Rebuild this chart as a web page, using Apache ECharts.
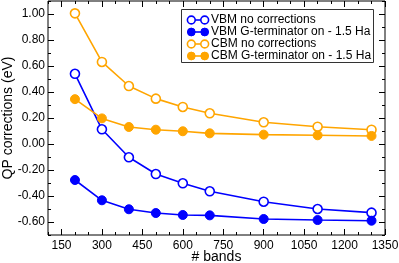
<!DOCTYPE html>
<html>
<head>
<meta charset="utf-8">
<script src="https://cdn.jsdelivr.net/npm/echarts@6/dist/echarts.min.js"></script>
<style>html,body{margin:0;padding:0;background:#fff;}#c{width:399px;height:263px;}</style>
</head>
<body>
<div id="c"></div>
<script>
const bands = [200, 300, 400, 500, 600, 700, 900, 1100, 1300];
const vbmNoCorr = [0.54, 0.113, -0.102, -0.231, -0.302, -0.364, -0.444, -0.50, -0.528];
const vbmGterm = [-0.277, -0.433, -0.502, -0.531, -0.546, -0.549, -0.577, -0.585, -0.59];
const cbmNoCorr = [1.005, 0.631, 0.446, 0.349, 0.285, 0.236, 0.167, 0.133, 0.11];
const cbmGterm = [0.345, 0.197, 0.131, 0.110, 0.098, 0.082, 0.072, 0.067, 0.062];
const seriesNames = ['VBM no corrections', 'VBM G-terminator on - 1.5 Ha', 'CBM no corrections', 'CBM G-terminator on - 1.5 Ha'];
const xTicks = [150, 300, 450, 600, 750, 900, 1050, 1200, 1350];
const yTicks = [-0.6, -0.4, -0.2, 0, 0.2, 0.4, 0.6, 0.8, 1.0];

const BLUE = '#0000ff', ORANGE = '#ffa500';
const FONT = 'Liberation Sans';
const seriesDefs = [
  {name: seriesNames[0], vals: vbmNoCorr, color: BLUE, hollow: true},
  {name: seriesNames[1], vals: vbmGterm, color: BLUE, hollow: false},
  {name: seriesNames[2], vals: cbmNoCorr, color: ORANGE, hollow: true},
  {name: seriesNames[3], vals: cbmGterm, color: ORANGE, hollow: false}
];

function xAx(pos, major, withLabel) {
  const a = {
    type: 'value', position: pos, min: 100, max: 1350, gridIndex: 0,
    axisLine: {show: false, onZero: false}, splitLine: {show: false},
    axisLabel: {show: false}
  };
  if (major) {
    a.axisTick = {show: true, inside: true, length: 6, customValues: xTicks, lineStyle: {color: '#000', width: 1}};
    if (withLabel) {
      a.axisLabel = {show: true, customValues: xTicks, margin: 5, fontSize: 12, fontFamily: FONT, color: '#000',
        formatter: v => String(v)};
      a.name = '# bands'; a.nameLocation = 'middle'; a.nameGap = 15; a.nameMoveOverlap = false;
      a.nameTextStyle = {fontSize: 14, fontFamily: FONT, color: '#000'};
    }
  } else {
    a.interval = 50;
    a.axisTick = {show: true, inside: true, length: 3, lineStyle: {color: '#000', width: 1}};
  }
  return a;
}
function yAx(pos, major, withLabel) {
  const a = {
    type: 'value', position: pos, min: -0.7, max: 1.1, gridIndex: 0,
    axisLine: {show: false, onZero: false}, splitLine: {show: false},
    axisLabel: {show: false}
  };
  if (major) {
    a.axisTick = {show: true, inside: true, length: 6, customValues: yTicks, lineStyle: {color: '#000', width: 1}};
    if (withLabel) {
      a.axisLabel = {show: true, customValues: yTicks, margin: 3, fontSize: 12, fontFamily: FONT, color: '#000',
        formatter: v => v.toFixed(2)};
      a.name = 'QP corrections (eV)'; a.nameLocation = 'middle'; a.nameGap = 33; a.nameMoveOverlap = false;
      a.nameTextStyle = {fontSize: 14, fontFamily: FONT, color: '#000'};
    }
  } else {
    a.interval = 0.1;
    a.axisTick = {show: true, inside: true, length: 3, lineStyle: {color: '#000', width: 1}};
  }
  return a;
}

const series = seriesDefs.map(s => ({
  type: 'line', name: s.name, xAxisIndex: 0, yAxisIndex: 0,
  data: bands.map((b, i) => [b, s.vals[i]]),
  symbol: 'circle', symbolSize: 9,
  lineStyle: {color: s.color, width: 1.6},
  itemStyle: s.hollow ? {color: '#fff', borderColor: s.color, borderWidth: 1.6}
                      : {color: s.color, borderColor: s.color, borderWidth: 1},
  emphasis: {disabled: true}
}));

// legend drawn as graphic (two symbols joined by a line, as in the original)
const lg = [];
const lx = 181.5, ly = 9.5, rowY = [20, 32, 44, 56];
lg.push({type: 'rect', shape: {x: lx, y: ly, width: 192, height: 53},
  style: {fill: '#fff', stroke: '#333', lineWidth: 1}, z: 10});
seriesDefs.forEach((s, i) => {
  const y = rowY[i];
  lg.push({type: 'line', shape: {x1: 191.3, y1: y, x2: 204.7, y2: y}, style: {stroke: s.color, lineWidth: 1.6}, z: 11});
  [191.3, 204.7].forEach(cx => {
    lg.push({type: 'circle', shape: {cx: cx, cy: y, r: 3.9},
      style: s.hollow ? {fill: '#fff', stroke: s.color, lineWidth: 1.6} : {fill: s.color, stroke: s.color, lineWidth: 1}, z: 12});
  });
  lg.push({type: 'text', x: 211, y: y, style: {text: s.name, fontSize: 12, fontFamily: FONT, fill: '#000', verticalAlign: 'middle', align: 'left'}, z: 12});
});

const chart = echarts.init(document.getElementById('c'), null, {renderer: 'canvas'});
chart.setOption({
  animation: false,
  backgroundColor: '#fff',
  grid: {left: 48, right: 14, top: 1, bottom: 28, show: true, borderColor: '#000', borderWidth: 1, backgroundColor: 'transparent',
    containLabel: false, outerBoundsMode: 'none'},
  xAxis: [xAx('bottom', false), xAx('bottom', true, true), xAx('top', false), xAx('top', true, false)],
  yAxis: [yAx('left', false), yAx('left', true, true), yAx('right', false), yAx('right', true, false)],
  series: series,
  graphic: lg
});
</script>
</body>
</html>
